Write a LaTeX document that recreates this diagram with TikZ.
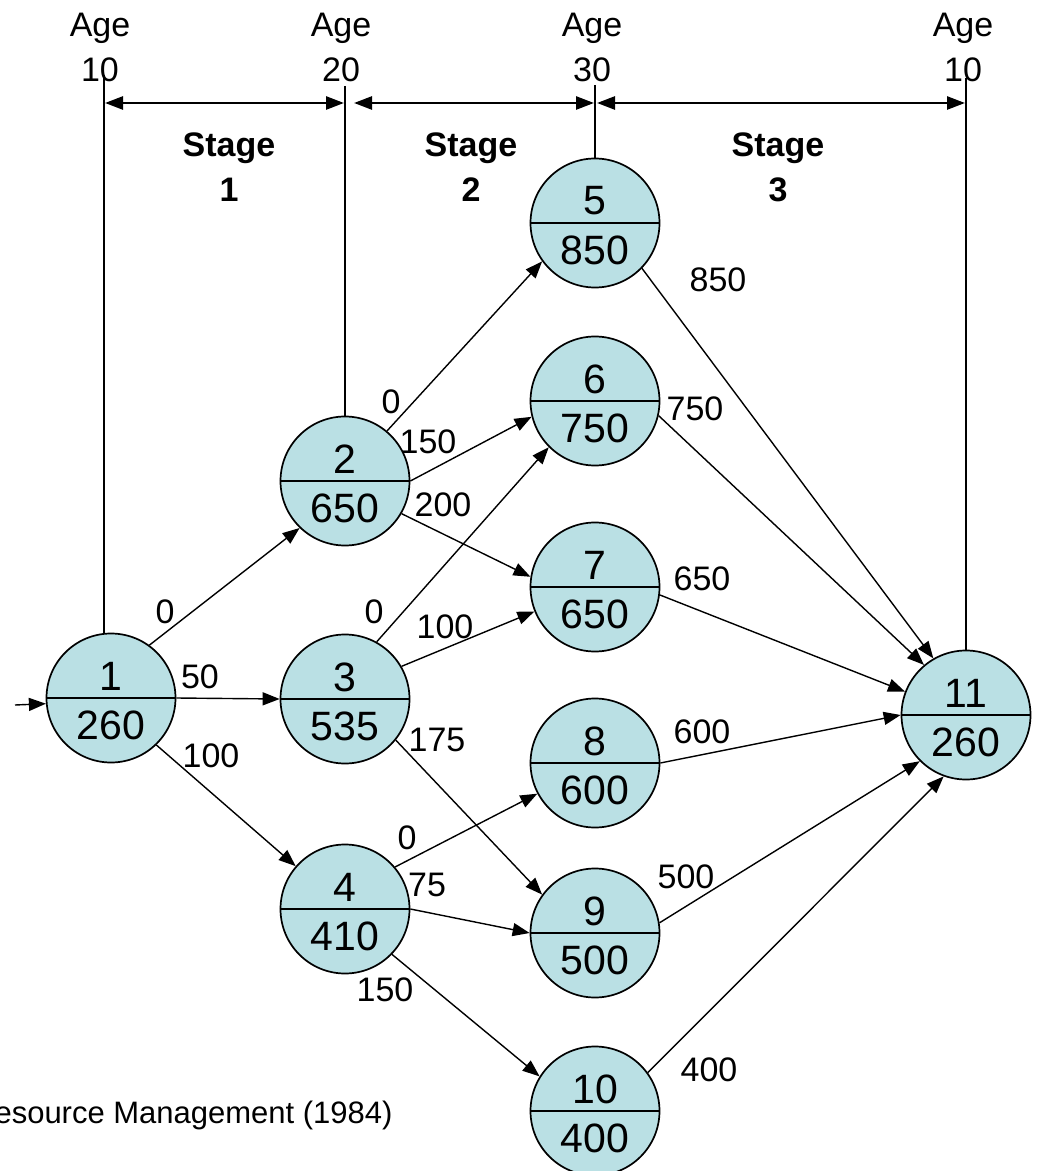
\documentclass[tikz,border=0pt]{standalone}
\usepackage{fontspec}
\setmainfont{Liberation Sans}
\usetikzlibrary{arrows.meta,calc}
\definecolor{nodefill}{RGB}{186,224,228}
\begin{document}
\begin{tikzpicture}[x=0.5pt,y=-0.5pt,
  stn/.style={circle,draw=black,line width=0.85pt,fill=nodefill,minimum size=64.5pt,inner sep=0pt},
  divline/.style={line width=1.25pt},
  ntxt/.style={font=\fontsize{20.5pt}{24pt}\selectfont,inner sep=0pt},
  elab/.style={font=\fontsize{17pt}{20pt}\selectfont,inner sep=0pt},
  agetxt/.style={font=\fontsize{17pt}{20pt}\selectfont,inner sep=0pt,anchor=base},
  stagetxt/.style={font=\bfseries\fontsize{17pt}{20pt}\selectfont,inner sep=0pt,anchor=base},
  edgearr/.style={line width=0.7pt,-{Triangle[length=8.5pt,width=6.5pt]}},
  stagearr/.style={line width=1.3pt,{Triangle[length=9pt,width=6.5pt]}-{Triangle[length=9pt,width=6.5pt]}},
  vline/.style={line width=1.15pt}
]
\useasboundingbox (0,0) rectangle (1040,1171);

% stage nodes
\foreach \n/\x/\y/\v in {1/111/698/260, 2/345/481/650, 3/345/699/535, 4/345/909/410,
  5/595/223/850, 6/595/401/750, 7/595/587/650, 8/595/763/600, 9/595/933/500,
  10/595/1111/400, 11/966/715/260}{
  \node[stn] (n\n) at (\x,\y) {};
  \draw[divline] (n\n.west) -- (n\n.east);
  \node[ntxt] (n\n t) at ($(n\n.center)+(0,-22)$) {\n};
  \node[ntxt] (n\n b) at ($(n\n.center)+(0,27)$) {\v};
}

% age labels
\node[agetxt] (ag1) at (100,37) {Age};
\node[agetxt] (ag1n) at (100,82) {10};
\node[agetxt] (ag2) at (341,37) {Age};
\node[agetxt] (ag2n) at (341,82) {20};
\node[agetxt] (ag3) at (592,37) {Age};
\node[agetxt] (ag3n) at (592,82) {30};
\node[agetxt] (ag4) at (963,37) {Age};
\node[agetxt] (ag4n) at (963,82) {10};

% stage labels
\node[stagetxt] (st1) at (229,157) {Stage};
\node[stagetxt] (st1n) at (229,202) {1};
\node[stagetxt] (st2) at (471,157) {Stage};
\node[stagetxt] (st2n) at (471,202) {2};
\node[stagetxt] (st3) at (778,157) {Stage};
\node[stagetxt] (st3n) at (778,202) {3};

% vertical lines
\coordinate (v1) at (104,75);
\coordinate (v2) at (345,86);
\coordinate (v3) at (595,85);
\coordinate (v4) at (966,78);
\draw[vline] (v1) -- (v1 |- n1.north);
\draw[vline] (v2) -- (n2.north);
\draw[vline] (v3) -- (n5.north);
\draw[vline] (v4) -- (n11.north);

% stage arrows
\coordinate (a1) at (105,103);
\coordinate (a2) at (344,103);
\coordinate (a3) at (354,103);
\coordinate (a4) at (594,103);
\coordinate (a5) at (597,103);
\coordinate (a6) at (965,103);
\draw[stagearr] (a1) -- (a2);
\draw[stagearr] (a3) -- (a4);
\draw[stagearr] (a5) -- (a6);

% entry arrow
\coordinate (in) at (15,705);
\draw[edgearr] (in) -- (n1.185);

% edges
\draw[edgearr] (n1.54) -- (n2.226);
\draw[edgearr] (n1.east) -- (n3.west);
\draw[edgearr] (n1.-46) -- (n4.139);
\draw[edgearr] (n2.50) -- (n5.216);
\draw[edgearr] (n2.east) -- (n6.194);
\draw[edgearr] (n2.-30) -- (n7.171);
\draw[edgearr] (n3.61) -- (n6.225);
\draw[edgearr] (n3.30) -- (n7.202);
\draw[edgearr] (n3.-39) -- (n9.144);
\draw[edgearr] (n4.40) -- (n8.208);
\draw[edgearr] (n4.east) -- (n9.west);
\draw[edgearr] (n4.-44) -- (n10.148);
\draw[edgearr] (n5.-44) -- (n11.120);
\draw[edgearr] (n6.-13) -- (n11.130);
\draw[edgearr] (n7.-7) -- (n11.159);
\draw[edgearr] (n8.east) -- (n11.west);
\draw[edgearr] (n9.9) -- (n11.225);
\draw[edgearr] (n10.36) -- (n11.250);

% edge labels
\node[elab] (l12) at (165,612) {0};
\node[elab] (l13) at (200,677) {50};
\node[elab] (l14) at (211,756) {100};
\node[elab] (l25) at (391,402) {0};
\node[elab] (l26) at (428,442) {150};
\node[elab] (l27) at (443,505) {200};
\node[elab] (l36) at (374,612) {0};
\node[elab] (l37) at (445,627) {100};
\node[elab] (l39) at (437,740) {175};
\node[elab] (l48) at (407,838) {0};
\node[elab] (l49) at (427,885) {75};
\node[elab] (l410) at (385,990) {150};
\node[elab] (l511) at (718,280) {850};
\node[elab] (l611) at (695,409) {750};
\node[elab] (l711) at (702,579) {650};
\node[elab] (l811) at (702,732) {600};
\node[elab] (l911) at (686,877) {500};
\node[elab] (l1011) at (709,1070) {400};

% source note
\node[font=\fontsize{15.5pt}{19pt}\selectfont,inner sep=0pt,anchor=base east] (src) at (393,1123) {esource Management (1984)};
\end{tikzpicture}
\end{document}
